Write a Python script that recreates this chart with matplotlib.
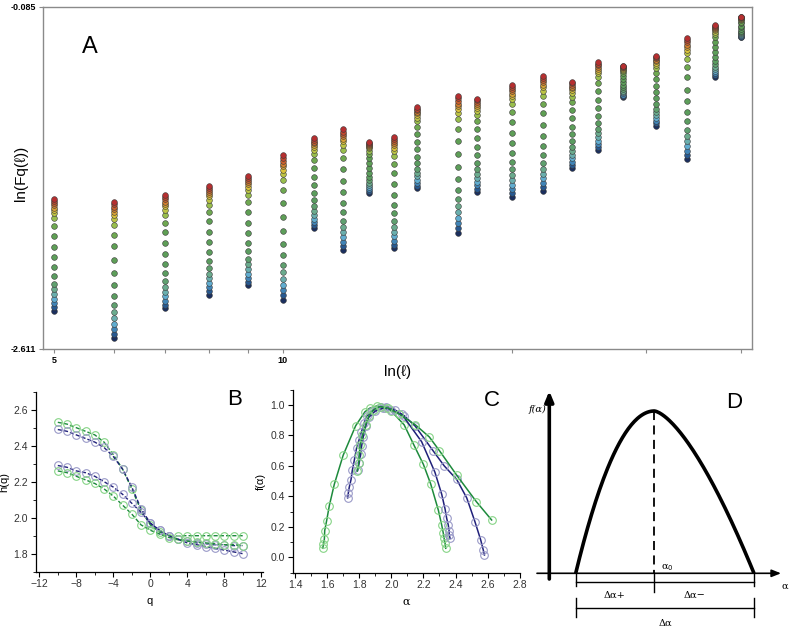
import numpy as np
import matplotlib
matplotlib.use('Agg')
import matplotlib.pyplot as plt
from matplotlib.colors import LinearSegmentedColormap
from matplotlib.ticker import MultipleLocator, NullFormatter, FixedLocator, FixedFormatter

plt.rcParams['font.family'] = ['Liberation Sans', 'DejaVu Sans']

# ---- panel A data: scale l, top (q=-10) and bottom (q=10) of each column
scales = [5, 6, 7, 8, 9, 10, 11, 12, 13, 14, 15, 17, 18, 20, 22, 24, 26, 28, 31, 34, 37, 40]
col_top = [-1.504, -1.524, -1.477, -1.406, -1.334, -1.182, -1.056, -0.990, -1.081, -1.044, -0.827,
           -0.742, -0.764, -0.663, -0.596, -0.639, -0.495, -0.520, -0.447, -0.314, -0.220, -0.159]
col_bottom = [-2.331, -2.532, -2.311, -2.210, -2.141, -2.250, -1.720, -1.881, -1.458, -1.868, -1.425,
              -1.753, -1.450, -1.487, -1.443, -1.273, -1.143, -0.749, -0.963, -1.211, -0.602, -0.311]
q_vals = list(range(-10, 11))
# relative position of each q inside a column (0 = top, 1 = bottom), read from the first column
q_position = [0, .018, .036, .057, .077, .098, .128, .173, .241, .327, .426, .521, .610, .688,
              .756, .807, .851, .893, .932, .967, 1.0]

# ---- panel B data: h(q)
hq_green_1 = [2.53, 2.52, 2.50, 2.48, 2.46, 2.42, 2.35, 2.27, 2.16, 2.04, 1.96, 1.92, 1.90, 1.90,
              1.90, 1.90, 1.90, 1.90, 1.90, 1.90, 1.90]
hq_navy_1 = [2.49, 2.48, 2.46, 2.44, 2.42, 2.39, 2.34, 2.27, 2.17, 2.05, 1.97, 1.93, 1.90, 1.88,
             1.87, 1.86, 1.855, 1.85, 1.85, 1.845, 1.845]
hq_navy_2 = [2.29, 2.28, 2.26, 2.25, 2.23, 2.20, 2.17, 2.13, 2.08, 2.03, 1.97, 1.93, 1.90, 1.88,
             1.86, 1.85, 1.84, 1.83, 1.82, 1.81, 1.80]
hq_green_2 = [2.26, 2.25, 2.23, 2.21, 2.19, 2.16, 2.12, 2.07, 2.02, 1.96, 1.93, 1.91, 1.89, 1.88,
              1.87, 1.865, 1.86, 1.855, 1.85, 1.85, 1.845]

# ---- panel C data: f(alpha)
alpha_green_1 = [1.573, 1.577, 1.583, 1.585, 1.597, 1.614, 1.645, 1.70, 1.778, 1.836, 1.867, 1.913,
                 1.96, 2.0, 2.08, 2.141, 2.2, 2.245, 2.293, 2.314, 2.324, 2.329, 2.335, 2.339]
f_green_1 = [0.059, 0.085, 0.12, 0.175, 0.24, 0.34, 0.48, 0.67, 0.864, 0.956, 0.98, 0.995,
             0.98, 0.96, 0.87, 0.737, 0.61, 0.483, 0.31, 0.212, 0.158, 0.125, 0.092, 0.059]
alpha_green_2 = [1.788, 1.797, 1.80, 1.806, 1.82, 1.84, 1.86, 1.89, 1.93, 1.98, 2.05, 2.15, 2.237,
                 2.30, 2.407, 2.53, 2.625]
f_green_2 = [0.566, 0.62, 0.67, 0.74, 0.80, 0.87, 0.93, 0.97, 0.99, 0.98, 0.94, 0.87, 0.79,
             0.70, 0.54, 0.365, 0.245]
alpha_navy_1 = [1.728, 1.732, 1.738, 1.749, 1.757, 1.77, 1.784, 1.799, 1.813, 1.83, 1.847, 1.878,
                1.934, 1.965, 2.02, 2.08, 2.15, 2.26, 2.33, 2.407, 2.47, 2.521, 2.557, 2.573, 2.58]
f_navy_1 = [0.39, 0.42, 0.46, 0.51, 0.57, 0.64, 0.72, 0.77, 0.82, 0.88, 0.93, 0.96, 0.99, 0.99,
            0.97, 0.93, 0.86, 0.70, 0.60, 0.512, 0.39, 0.234, 0.114, 0.048, 0.015]
alpha_navy_2 = [1.79, 1.80, 1.81, 1.815, 1.825, 1.84, 1.86, 1.90, 1.95, 2.0, 2.065, 2.189, 2.272,
                2.314, 2.335, 2.345, 2.355, 2.36, 2.361, 2.366]
f_navy_2 = [0.57, 0.62, 0.68, 0.73, 0.79, 0.86, 0.92, 0.96, 0.98, 0.97, 0.94, 0.759, 0.558,
            0.414, 0.317, 0.256, 0.212, 0.175, 0.146, 0.125]

# ---- panel D schematic (pixel coordinates of the sketch)
root_left, peak_x, root_right = 575.7, 654.3, 754.0
base_y, peak_y = 573.3, 411.0

W, H = 792, 627
fig = plt.figure(figsize=(W / 100, H / 100), dpi=100)


def px_axes(l, t, r, b):
    return fig.add_axes([l / W, 1 - b / H, (r - l) / W, (b - t) / H])


GREEN_LINE = '#1d8a3c'
NAVY_LINE = '#20207a'
GREEN_MK = '#86d486'
NAVY_MK = '#9a9ac8'
SPINE_GRAY = '#8a8a8a'

# ================= panel A
axA = px_axes(43, 6.7, 752, 349)
cmap = LinearSegmentedColormap.from_list('fq', [
    (0.0, '#b52f30'), (0.12, '#cf6a2c'), (0.25, '#dcc23a'), (0.33, '#a9c64c'),
    (0.42, '#5f9f52'), (0.68, '#5b9c62'), (0.77, '#6fae98'), (0.85, '#62aed0'),
    (0.93, '#2f6ea8'), (1.0, '#1b2f5e')])
for i in range(len(q_vals) - 1, -1, -1):
    ys = [t + q_position[i] * (b - t) for t, b in zip(col_top, col_bottom)]
    axA.scatter(scales, ys, s=17, color=cmap(i / (len(q_vals) - 1)),
                edgecolors='#3a3a3a', linewidths=0.4, zorder=3)
axA.set_xscale('log')
axA.set_xlim(4.84, 41.4)
axA.set_ylim(-2.611, -0.085)
axA.xaxis.set_major_locator(FixedLocator([5, 10]))
axA.xaxis.set_major_formatter(FixedFormatter(['5', '10']))
axA.xaxis.set_minor_locator(FixedLocator([6, 7, 8, 9, 20, 30, 40]))
axA.xaxis.set_minor_formatter(NullFormatter())
axA.set_yticks([-2.611, -0.085])
axA.set_yticklabels(['-2.611', '-0.085'])
axA.tick_params(axis='both', which='both', direction='out', length=3, width=0.8,
                color=SPINE_GRAY, labelsize=6.5, pad=2)
for lab in axA.get_xticklabels() + axA.get_yticklabels():
    lab.set_fontweight('bold')
for sp in axA.spines.values():
    sp.set_color(SPINE_GRAY)
    sp.set_linewidth(1.0)
axA.set_xlabel('ln(ℓ)', fontsize=11, labelpad=0)
axA.text((21 - 43) / 709, 1 - (173 - 6.7) / 342.3, 'ln(Fq(ℓ))', transform=axA.transAxes,
         fontsize=11, rotation=90, ha='center', va='center')
axA.text(0.066, 0.882, 'A', transform=axA.transAxes, fontsize=17, ha='center', va='center')

# ================= panel B
axB = px_axes(35.6, 391.7, 263.2, 571.7)
for vals, lc, mc in [(hq_green_1, GREEN_LINE, GREEN_MK), (hq_navy_1, NAVY_LINE, NAVY_MK),
                     (hq_navy_2, NAVY_LINE, NAVY_MK), (hq_green_2, GREEN_LINE, GREEN_MK)]:
    axB.plot(q_vals, vals, linestyle=(0, (3, 1.5)), color=lc, lw=1.0,
             marker='o', markersize=5.5, markerfacecolor='none', markeredgecolor=mc,
             markeredgewidth=0.8)
axB.set_xlim(-12.4, 12.2)
axB.set_ylim(1.7, 2.7)
axB.xaxis.set_major_locator(MultipleLocator(4))
axB.xaxis.set_minor_locator(MultipleLocator(2))
axB.yaxis.set_major_locator(FixedLocator([1.8, 2.0, 2.2, 2.4, 2.6]))
axB.yaxis.set_minor_locator(MultipleLocator(0.1))
axB.set_xlabel('q', fontsize=8, labelpad=5)
axB.set_ylabel('h(q)', fontsize=8, labelpad=3)
axB.text(0.876, 0.954, 'B', transform=axB.transAxes, fontsize=16, ha='center', va='center')

# ================= panel C
axC = px_axes(292.6, 389.8, 519.7, 572.5)
for a, f, lc, mc in [(alpha_green_1, f_green_1, GREEN_LINE, GREEN_MK),
                     (alpha_navy_1, f_navy_1, NAVY_LINE, NAVY_MK),
                     (alpha_navy_2, f_navy_2, NAVY_LINE, NAVY_MK),
                     (alpha_green_2, f_green_2, GREEN_LINE, GREEN_MK)]:
    axC.plot(a, f, color=lc, lw=1.1, marker='o', markersize=5.5, markerfacecolor='none',
             markeredgecolor=mc, markeredgewidth=0.8)
axC.set_xlim(1.385, 2.8)
axC.set_ylim(-0.1, 1.1)
axC.xaxis.set_major_locator(MultipleLocator(0.2))
axC.xaxis.set_minor_locator(MultipleLocator(0.1))
axC.yaxis.set_major_locator(FixedLocator([0.0, 0.2, 0.4, 0.6, 0.8, 1.0]))
axC.yaxis.set_minor_locator(MultipleLocator(0.1))
axC.set_xlabel('α', fontsize=8, labelpad=5, family=['DejaVu Serif'])
axC.set_ylabel('f(α)', fontsize=8, labelpad=3)
axC.text(0.877, 0.944, 'C', transform=axC.transAxes, fontsize=16, ha='center', va='center')

for ax in (axB, axC):
    for side in ('top', 'right'):
        ax.spines[side].set_visible(False)
    for side in ('left', 'bottom'):
        ax.spines[side].set_linewidth(0.9)
    ax.tick_params(axis='both', which='major', direction='out', length=3.5, width=0.8,
                   labelsize=7.5, pad=2, labelcolor='#333333')
    ax.tick_params(axis='both', which='minor', direction='out', length=2, width=0.6)

# ================= panel D (schematic)
axD = px_axes(525, 385, 792, 627)
axD.set_xlim(525, 792)
axD.set_ylim(627, 385)
axD.axis('off')
axD.annotate('', xy=(549.3, 391), xytext=(549.3, 579),
             arrowprops=dict(arrowstyle='-|>,head_width=0.25,head_length=0.6', lw=2.6,
                             color='black', shrinkA=0, shrinkB=0))
axD.annotate('', xy=(781, base_y), xytext=(537, base_y),
             arrowprops=dict(arrowstyle='-|>,head_width=0.22,head_length=0.55', lw=1.2,
                             color='black', shrinkA=0, shrinkB=0))
xl = np.linspace(root_left, peak_x, 80)
yl = base_y - (base_y - peak_y) * (1 - ((peak_x - xl) / (peak_x - root_left)) ** 2)
xr = np.linspace(peak_x, root_right, 80)
yr = base_y - (base_y - peak_y) * (1 - ((xr - peak_x) / (root_right - peak_x)) ** 1.5)
axD.plot(np.r_[xl, xr], np.r_[yl, yr], color='black', lw=2.6, solid_capstyle='butt')
axD.plot([peak_x, peak_x], [peak_y, base_y], color='black', lw=1.3, linestyle=(0, (5, 3)))
axD.plot([root_left, root_right], [581.7, 581.7], color='black', lw=1.0)
axD.plot([root_left, root_left], [base_y, 586], color='black', lw=1.0)
axD.plot([root_right, root_right], [base_y, 586], color='black', lw=1.0)
axD.plot([peak_x, peak_x], [base_y, 592], color='black', lw=1.0)
axD.plot([root_left, root_right], [607.7, 607.7], color='black', lw=1.0)
axD.plot([root_left, root_left], [598.3, 616.7], color='black', lw=1.0)
axD.plot([root_right, root_right], [598.3, 616.7], color='black', lw=1.0)
serif = ['DejaVu Serif']
axD.text(615, 595.7, 'Δα+', fontsize=7, ha='center', va='center', family=serif)
axD.text(695, 595.7, 'Δα−', fontsize=7, ha='center', va='center', family=serif)
axD.text(665, 623.5, 'Δα', fontsize=7, ha='center', va='center', family=serif)
axD.text(667, 568, 'α$_0$', fontsize=7, ha='center', va='center', family=serif)
axD.text(785, 586, 'α', fontsize=7, ha='center', va='center', family=serif)
axD.text(537, 409, 'f(α)', fontsize=7, ha='center', va='center', family=serif, style='italic')
axD.text(734, 402, 'D', fontsize=16, ha='center', va='center')

fig.savefig('out.png', dpi=100)
